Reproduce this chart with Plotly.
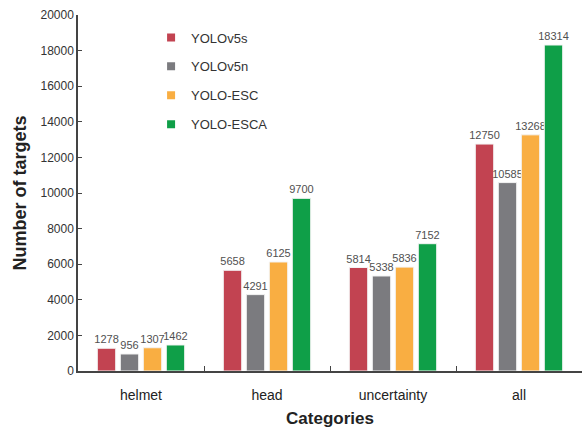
import plotly.graph_objects as go

categories = ["helmet", "head", "uncertainty", "all"]
models = ["YOLOv5s", "YOLOv5n", "YOLO-ESC", "YOLO-ESCA"]
yolov5s = [1278, 5658, 5814, 12750]
yolov5n = [956, 4291, 5338, 10585]
yolo_esc = [1307, 6125, 5836, 13268]
yolo_esca = [1462, 9700, 7152, 18314]
colors = ["#C24351", "#7B7B7F", "#F9AE42", "#0F9F48"]
y_ticks = [0, 2000, 4000, 6000, 8000, 10000, 12000, 14000, 16000, 18000, 20000]

series = [yolov5s, yolov5n, yolo_esc, yolo_esca]
FONT = "Liberation Sans, Arial"

fig = go.Figure()
for name, vals, col in zip(models, series, colors):
    fig.add_trace(go.Bar(
        x=categories, y=vals, name=name, showlegend=False,
        marker=dict(color=col, line=dict(color="#F4F4F4", width=1)),
        text=[str(v) for v in vals], textposition="outside",
        constraintext="none",
        textfont=dict(family=FONT, size=11, color="#505050"),
        cliponaxis=False,
    ))
for name, col in zip(models, colors):
    fig.add_trace(go.Scatter(
        x=[None], y=[None], mode="markers", name=name, legendgroup=name,
        marker=dict(symbol="square", size=8, color=col),
    ))

fig.update_layout(
    width=588, height=429,
    margin=dict(l=78, r=6, t=15, b=58),
    paper_bgcolor="white", plot_bgcolor="white",
    barmode="group", bargap=0.27, bargroupgap=0.2,
    font=dict(family=FONT, color="#333333"),
    showlegend=True,
    legend=dict(x=0.145, y=0.979, xanchor="left", yanchor="top",
                font=dict(family=FONT, size=13, color="#333333"),
                tracegroupgap=9, itemwidth=30, bgcolor="rgba(0,0,0,0)"),
    xaxis=dict(
        title=dict(text="<b>Categories</b>", font=dict(family=FONT, size=17, color="#222222"), standoff=11),
        automargin=False,
        showline=True, linecolor="#444444", linewidth=1.5,
        ticks="inside", ticklen=5, tickcolor="#444444", tickson="boundaries",
        ticklabelstandoff=10,
        tickfont=dict(family=FONT, size=14, color="#222222"),
        showgrid=False,
    ),
    yaxis=dict(
        title=dict(text="<b>Number of targets</b>", font=dict(family=FONT, size=18, color="#222222"), standoff=9),
        automargin=False,
        range=[0, 20000], tickvals=y_ticks, ticktext=[str(v) for v in y_ticks],
        showline=True, linecolor="#444444", linewidth=1.5,
        ticks="inside", ticklen=4, tickcolor="#444444",
        tickfont=dict(family=FONT, size=12, color="#333333"),
        showgrid=False, zeroline=False,
    ),
)

fig.write_html("out.html")
